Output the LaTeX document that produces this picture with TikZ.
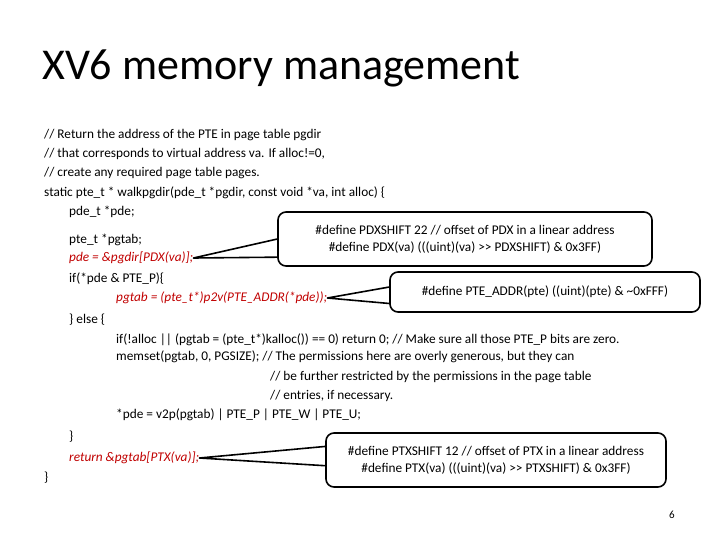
\documentclass[tikz,border=0pt]{standalone}
\usepackage{fontspec}
\setmainfont{Carlito}
\usetikzlibrary{calc}
\definecolor{codered}{RGB}{192,0,0}
\begin{document}
\begin{tikzpicture}[x=1pt,y=1pt,line join=round]
    \tikzstyle{code}=[anchor=west,inner sep=0pt,font=\fontsize{13.3}{15}\selectfont]
    \tikzstyle{hot}=[code,text=codered,font=\fontsize{13.3}{15}\selectfont\itshape]
    \tikzstyle{callout}=[draw=black,line width=1.6pt,fill=white,rounded corners=8pt,align=center,font=\fontsize{13.3}{17}\selectfont]
    \tikzstyle{pointer}=[draw=black,line width=1.6pt,fill=white]
    \useasboundingbox (0,0) rectangle (720,-540);

    % Title
    \node[anchor=west,inner sep=0pt,font=\fontsize{44}{48}\selectfont] (title) at (42,-68) {XV6 memory management};

    % Code lines
    \node[code] (c1) at (44,-135) {// Return the address of the PTE in page table pgdir};
    \node[code] (c2) at (44,-154) {// that corresponds to virtual address va. If alloc!=0,};
    \node[code] (c3) at (44,-173) {// create any required page table pages.};
    \node[code] (c4) at (44,-193) {static pte\_t * walkpgdir(pde\_t *pgdir, const void *va, int alloc) \{};
    \node[code] (c5) at (69,-212) {pde\_t *pde;};
    \node[code] (c6) at (69,-240) {pte\_t *pgtab;};
    \node[hot] (pde) at (69,-258) {pde = \&pgdir[PDX(va)];};
    \node[code] (c8) at (69,-279) {if(*pde \& PTE\_P)\{};
    \node[hot] (pgtab) at (116,-298) {pgtab = (pte\_t*)p2v(PTE\_ADDR(*pde));};
    \node[code] (c10) at (69,-320) {\} else \{};
    \node[code] (c11) at (116,-340) {if(!alloc || (pgtab = (pte\_t*)kalloc()) == 0) return 0; // Make sure all those PTE\_P bits are zero.};
    \node[code] (c12) at (116,-357) {memset(pgtab, 0, PGSIZE); // The permissions here are overly generous, but they can};
    \node[code] (c13) at (270,-377) {// be further restricted by the permissions in the page table};
    \node[code] (c14) at (270,-396) {// entries, if necessary.};
    \node[code] (c15) at (116,-415) {*pde = v2p(pgtab) | PTE\_P | PTE\_W | PTE\_U;};
    \node[code] (c16) at (69,-437) {\}};
    \node[hot] (ret) at (69,-458) {return \&pgtab[PTX(va)];};
    \node[code] (c18) at (44,-478) {\}};

    % Callouts
    \coordinate (pdxbox) at (465,-239);
    \coordinate (addrbox) at (545,-292);
    \coordinate (ptxbox) at (496,-460);
    \path[pointer] (pde.east) -- ($(pdxbox)+(-170,4)$) -- ($(pdxbox)+(-170,-18)$) -- cycle;
    \path[pointer] (pgtab.east) -- ($(addrbox)+(-150,6)$) -- ($(addrbox)+(-150,-12)$) -- cycle;
    \path[pointer] (ret.east) -- ($(ptxbox)+(-166,14)$) -- ($(ptxbox)+(-166,-6)$) -- cycle;
    \node[callout,minimum width=374pt,minimum height=54pt] (pdx) at (pdxbox)
        {\#define PDXSHIFT 22 // offset of PDX in a linear address\\\#define PDX(va) (((uint)(va) {>}{>} PDXSHIFT) \& 0x3FF)};
    \node[callout,minimum width=310pt,minimum height=40pt] (addr) at (addrbox)
        {\#define PTE\_ADDR(pte) ((uint)(pte) \& \textasciitilde 0xFFF)};
    \node[callout,minimum width=340pt,minimum height=54pt] (ptx) at (ptxbox)
        {\#define PTXSHIFT 12 // offset of PTX in a linear address\\\#define PTX(va) (((uint)(va) {>}{>} PTXSHIFT) \& 0x3FF)};

    % Page number
    \node[inner sep=0pt,font=\fontsize{11}{13}\selectfont] (page) at (672,-515) {6};
\end{tikzpicture}
\end{document}
